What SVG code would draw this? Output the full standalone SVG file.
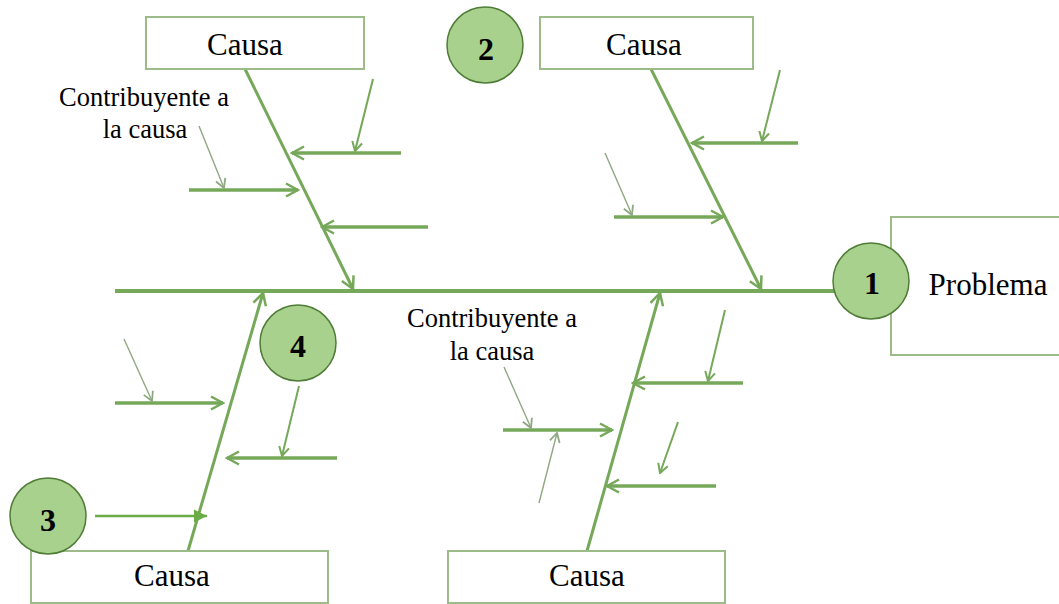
<svg xmlns="http://www.w3.org/2000/svg" width="1059" height="604" viewBox="0 0 1059 604">
  <style>
    .box { fill: #ffffff; stroke: #9dbb88; stroke-width: 2; }
    .badge { fill: #a9d18e; stroke: #4f7c36; stroke-width: 1.5; }
    .lbl { font-family: "Liberation Serif", "Times New Roman", serif; fill: #000000; text-anchor: middle; }
    .big { font-size: 31px; }
    .note { font-size: 26.5px; }
    .num { font-family: "Liberation Serif", "Times New Roman", serif; font-weight: bold; font-size: 32px; text-anchor: middle; fill: #000000; }
    .spine { stroke: #76a85a; stroke-width: 4; fill: none; }
    .bone { stroke: #76a85a; stroke-width: 3; fill: none; marker-end: url(#chev); }
    .sub { stroke: #76a85a; stroke-width: 3.5; fill: none; marker-end: url(#chev); }
    .mid { stroke: #76a85a; stroke-width: 2; fill: none; marker-end: url(#chevS); }
    .thin { stroke: #8fa882; stroke-width: 1.4; fill: none; marker-end: url(#chevT); }
    .pointer { stroke: #6aac45; stroke-width: 2.5; fill: none; marker-end: url(#tri); }
  </style>
  <defs>
    <marker id="chev" markerUnits="userSpaceOnUse" viewBox="0 0 16 16" markerWidth="16" markerHeight="16" refX="14" refY="8" orient="auto">
      <path d="M2,1.5 L14,8 L2,14.5" fill="none" stroke="#76a85a" stroke-width="2.5"/>
    </marker>
    <marker id="chevS" markerUnits="userSpaceOnUse" viewBox="0 0 12 12" markerWidth="12" markerHeight="12" refX="10.5" refY="6" orient="auto">
      <path d="M1.5,1 L10.5,6 L1.5,11" fill="none" stroke="#76a85a" stroke-width="2"/>
    </marker>
    <marker id="chevT" markerUnits="userSpaceOnUse" viewBox="0 0 12 12" markerWidth="12" markerHeight="12" refX="10.5" refY="6" orient="auto">
      <path d="M1.5,1 L10.5,6 L1.5,11" fill="none" stroke="#8fa882" stroke-width="1.8"/>
    </marker>
    <marker id="tri" markerUnits="userSpaceOnUse" viewBox="0 0 14 14" markerWidth="14" markerHeight="14" refX="13" refY="7" orient="auto">
      <path d="M0,0.5 L13,7 L0,13.5 Z" fill="#6aac45"/>
    </marker>
  </defs>

  <rect width="1059" height="604" fill="#ffffff"/>

  <!-- connectors: spine, main bones, sub-cause arrows -->
  <g id="connectors">
    <line class="spine" x1="115" y1="291" x2="835" y2="291"/>

    <line class="bone" x1="245" y1="69" x2="353" y2="289"/>
    <line class="bone" x1="651" y1="69" x2="761" y2="289"/>
    <line class="bone" x1="188" y1="551" x2="263" y2="293"/>
    <line class="bone" x1="587" y1="551" x2="660" y2="293"/>

    <!-- upper left bone -->
    <line class="sub" x1="401" y1="153" x2="292" y2="153"/>
    <line class="sub" x1="189" y1="190" x2="298" y2="190"/>
    <line class="sub" x1="428" y1="227" x2="322" y2="227"/>
    <line class="mid" x1="373" y1="79" x2="355" y2="151"/>
    <line class="thin" x1="199" y1="126" x2="224" y2="188"/>

    <!-- upper right bone -->
    <line class="sub" x1="798" y1="143" x2="692" y2="143"/>
    <line class="sub" x1="614" y1="217" x2="723" y2="217"/>
    <line class="mid" x1="780" y1="70" x2="762" y2="141"/>
    <line class="thin" x1="605" y1="153" x2="632" y2="215"/>

    <!-- lower left bone -->
    <line class="sub" x1="115" y1="403" x2="223" y2="403"/>
    <line class="sub" x1="337" y1="458" x2="227" y2="458"/>
    <line class="thin" x1="124" y1="339" x2="152" y2="401"/>
    <line class="mid" x1="299" y1="386" x2="282" y2="456"/>

    <!-- lower right bone -->
    <line class="sub" x1="743" y1="383" x2="633" y2="383"/>
    <line class="sub" x1="503" y1="430" x2="612" y2="430"/>
    <line class="sub" x1="716" y1="486" x2="607" y2="486"/>
    <line class="mid" x1="725" y1="310" x2="708" y2="381"/>
    <line class="thin" x1="504" y1="367" x2="531" y2="428"/>
    <line class="thin" x1="539" y1="503" x2="557" y2="433"/>
    <line class="mid" x1="678" y1="422" x2="660" y2="473"/>

    <!-- badge 3 pointer -->
    <line class="pointer" x1="95" y1="516" x2="207" y2="516"/>
  </g>

  <g id="cause-top-left">
    <rect class="box" x="146" y="17" width="218" height="52"/>
    <text class="lbl big" x="245" y="55">Causa</text>
  </g>

  <g id="cause-top-right">
    <rect class="box" x="540" y="17" width="213" height="52"/>
    <text class="lbl big" x="644" y="55">Causa</text>
  </g>

  <g id="cause-bottom-left">
    <rect class="box" x="31" y="551" width="297" height="52"/>
    <text class="lbl big" x="172" y="586">Causa</text>
  </g>

  <g id="cause-bottom-right">
    <rect class="box" x="448" y="551" width="277" height="52"/>
    <text class="lbl big" x="587" y="586">Causa</text>
  </g>

  <g id="problem">
    <rect class="box" x="891" y="217" width="180" height="138"/>
    <text class="lbl big" x="988" y="295">Problema</text>
  </g>

  <g id="note-upper">
    <text class="lbl note" x="144" y="106">Contribuyente a</text>
    <text class="lbl note" x="145" y="138">la causa</text>
  </g>

  <g id="note-lower">
    <text class="lbl note" x="492" y="327">Contribuyente a</text>
    <text class="lbl note" x="492" y="360">la causa</text>
  </g>

  <g id="badge-1">
    <circle class="badge" cx="871" cy="281" r="38"/>
    <text class="num" x="872" y="294">1</text>
  </g>

  <g id="badge-2">
    <circle class="badge" cx="485" cy="45" r="38"/>
    <text class="num" x="486" y="60">2</text>
  </g>

  <g id="badge-3">
    <circle class="badge" cx="48" cy="516" r="38"/>
    <text class="num" x="48" y="531">3</text>
  </g>

  <g id="badge-4">
    <circle class="badge" cx="298" cy="343" r="38"/>
    <text class="num" x="298" y="357">4</text>
  </g>
</svg>
